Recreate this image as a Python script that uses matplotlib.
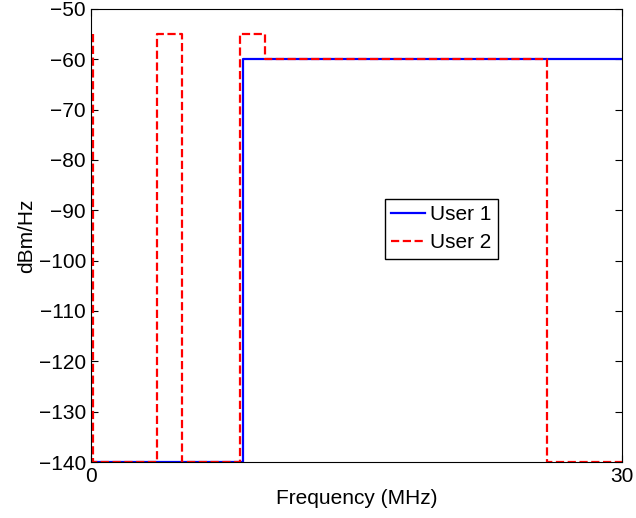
import matplotlib
matplotlib.use("Agg")
import matplotlib.pyplot as plt

plt.rcParams['font.family'] = ['Liberation Sans', 'DejaVu Sans']

# user 1 spectrum mask (MHz, dBm/Hz)
user1_freq = [0, 8.6, 8.6, 30]
user1_psd = [-140, -140, -60, -60]

# user 2 spectrum mask
user2_freq = [0.1, 0.1, 3.73, 3.73, 5.12, 5.12, 8.43, 8.43, 9.83, 9.83, 25.74, 25.74, 30]
user2_psd = [-55, -140, -140, -55, -55, -140, -140, -55, -55, -60, -60, -140, -140]

x_ticks = [0, 30]
y_ticks = list(range(-140, -49, 10))

fig = plt.figure(figsize=(6.36, 5.18), dpi=100)
ax = fig.add_axes([0.143, 0.108, 0.835, 0.875])

ax.plot(user1_freq, user1_psd, color='#0000ff', lw=1.6, label='User 1')
ax.plot(user2_freq, user2_psd, color='#ff0000', lw=1.6, ls='--', label='User 2')

ax.set_xlim(0, 30)
ax.set_ylim(-140, -50)
ax.set_xticks(x_ticks)
ax.set_yticks(y_ticks)
ax.tick_params(direction='in', length=5, labelsize=15, top=True, right=True, width=0.8)
ax.set_xlabel('Frequency (MHz)', fontsize=15, labelpad=2)
ax.set_ylabel('dBm/Hz', fontsize=15, labelpad=2)

leg = ax.legend(loc='upper left', bbox_to_anchor=(0.554, 0.581), fontsize=15,
                fancybox=False, framealpha=1, edgecolor='black', handlelength=1.6,
                handletextpad=0.25, borderpad=0.3, labelspacing=0.45, borderaxespad=0)
leg.get_frame().set_linewidth(1.0)

fig.savefig('out.png', dpi=100)
